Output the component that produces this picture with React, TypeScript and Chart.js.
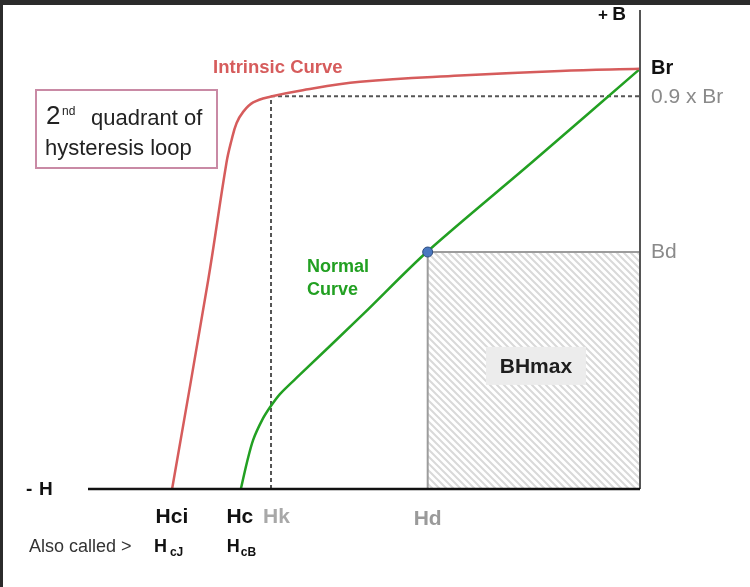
import React, { useEffect, useRef } from "react";
import { Chart, registerables } from "chart.js";

Chart.register(...registerables);

// Axis ranges (H in arbitrary units, B normalised so Br = 1)
const H_MIN = -13;
const H_MAX = 0;
const B_MIN = 0;
const B_MAX = 1.14;

// Intrinsic curve (red)
const intrinsicH = [-11.02, -10.17, -9.74, -9.62, -9.5, -9.35, -9.11, -8.69, -8.01, -6.59, -4.24, -1.88, 0];
const intrinsicB = [0, 0.497, 0.776, 0.83, 0.871, 0.897, 0.92, 0.934, 0.948, 0.969, 0.984, 0.995, 1.0];

// Normal curve (green)
const normalH = [-9.4, -9.26, -9.11, -8.9, -8.71, -8.48, -8.01, -6.52, -5.02, -2.55, 0];
const normalB = [0, 0.062, 0.117, 0.164, 0.195, 0.226, 0.272, 0.416, 0.564, 0.777, 1.0];

// Characteristic points
const Hci = -11.0;
const Hc = -9.4;
const Hk = -8.69;
const Hd = -5.0;
const Br = 1.0;
const B90 = 0.935;
const Bd = 0.564;

const FONT = '"Liberation Sans", Arial, Helvetica, sans-serif';

function text(
  ctx: CanvasRenderingContext2D,
  s: string,
  x: number,
  y: number,
  font: string,
  color: string,
  align: CanvasTextAlign = "left",
  baseline: CanvasTextBaseline = "middle"
) {
  ctx.font = font;
  ctx.fillStyle = color;
  ctx.textAlign = align;
  ctx.textBaseline = baseline;
  ctx.fillText(s, x, y);
}

function makeHatch(ctx: CanvasRenderingContext2D) {
  const p = document.createElement("canvas");
  p.width = 7;
  p.height = 7;
  const pc = p.getContext("2d")!;
  pc.fillStyle = "#ffffff";
  pc.fillRect(0, 0, 7, 7);
  pc.strokeStyle = "#d9d9d9";
  pc.lineWidth = 2;
  pc.beginPath();
  pc.moveTo(-1, -1);
  pc.lineTo(8, 8);
  pc.moveTo(-1, 6);
  pc.lineTo(1, 8);
  pc.moveTo(6, -1);
  pc.lineTo(8, 1);
  pc.stroke();
  return ctx.createPattern(p, "repeat")!;
}

const diagramPlugin = {
  id: "diagram",
  beforeDraw(chart: any) {
    const { ctx, width, height } = chart;
    ctx.save();
    ctx.fillStyle = "#ffffff";
    ctx.fillRect(0, 0, width, height);
    ctx.fillStyle = "#2b2b2b";
    ctx.fillRect(0, 0, width, 5);
    ctx.fillRect(0, 0, 3, height);
    ctx.restore();
  },
  beforeDatasetsDraw(chart: any) {
    const { ctx } = chart;
    const xs = chart.scales.x;
    const ys = chart.scales.y;
    const x0 = xs.getPixelForValue(Hd);
    const x1 = xs.getPixelForValue(0);
    const y0 = ys.getPixelForValue(Bd);
    const y1 = ys.getPixelForValue(0);
    ctx.save();
    ctx.fillStyle = makeHatch(ctx);
    ctx.fillRect(x0, y0, x1 - x0, y1 - y0);
    ctx.strokeStyle = "#9c9c9c";
    ctx.lineWidth = 2;
    ctx.beginPath();
    ctx.moveTo(x0, y1);
    ctx.lineTo(x0, y0);
    ctx.lineTo(x1, y0);
    ctx.stroke();

    // BHmax label box
    const cx = xs.getPixelForValue(-2.45);
    const cy = ys.getPixelForValue(0.293);
    ctx.fillStyle = "#ececec";
    ctx.fillRect(cx - 50, cy - 19, 100, 38);
    text(ctx, "BHmax", cx, cy + 1, `bold 21px ${FONT}`, "#1e1e1e", "center");
    ctx.restore();
  },
  afterDatasetsDraw(chart: any) {
    const { ctx, chartArea } = chart;
    const xs = chart.scales.x;
    const ys = chart.scales.y;
    const X = (v: number) => xs.getPixelForValue(v);
    const Y = (v: number) => ys.getPixelForValue(v);
    ctx.save();

    // axes
    ctx.strokeStyle = "#555555";
    ctx.lineWidth = 2;
    ctx.beginPath();
    ctx.moveTo(X(0), chartArea.top);
    ctx.lineTo(X(0), Y(0));
    ctx.stroke();
    ctx.strokeStyle = "#111111";
    ctx.lineWidth = 2.5;
    ctx.beginPath();
    ctx.moveTo(chartArea.left, Y(0));
    ctx.lineTo(X(0), Y(0));
    ctx.stroke();

    // axis names
    text(ctx, "+", X(0) - 32, chartArea.top + 5, `bold 17px ${FONT}`, "#111", "right");
    text(ctx, "B", X(0) - 14, chartArea.top + 5, `bold 19px ${FONT}`, "#111", "right");
    text(ctx, "-", 26, Y(0) + 1, `bold 19px ${FONT}`, "#111");
    text(ctx, "H", 39, Y(0) + 1, `bold 19px ${FONT}`, "#111");

    // curve labels
    text(ctx, "Intrinsic Curve", X(-8.53), Y(Br) - 1, `bold 18.5px ${FONT}`, "#d65c5c", "center");
    text(ctx, "Normal", X(-7.84), Y(0.528), `bold 18px ${FONT}`, "#22a022");
    text(ctx, "Curve", X(-7.84), Y(0.474), `bold 18px ${FONT}`, "#22a022");

    // B labels
    text(ctx, "Br", X(0) + 11, Y(Br), `bold 20px ${FONT}`, "#111");
    text(ctx, "0.9 x Br", X(0) + 11, Y(B90) + 1, `21px ${FONT}`, "#8a8a8a");
    text(ctx, "Bd", X(0) + 11, Y(Bd), `21px ${FONT}`, "#8a8a8a");

    // H labels
    const ty = Y(0) + 28;
    text(ctx, "Hci", X(Hci) - 1, ty, `bold 21px ${FONT}`, "#111", "center");
    text(ctx, "Hc", X(Hc) - 1, ty, `bold 21px ${FONT}`, "#111", "center");
    text(ctx, "Hk", X(Hk) - 8, ty, `bold 21px ${FONT}`, "#a8a8a8", "left");
    text(ctx, "Hd", X(Hd), ty + 2, `bold 21px ${FONT}`, "#9a9a9a", "center");

    // Also called row
    const ay = Y(0) + 58;
    text(ctx, "Also called >", 29, ay, `18px ${FONT}`, "#333");
    text(ctx, "H", X(Hci) - 19, ay, `bold 18px ${FONT}`, "#111");
    text(ctx, "cJ", X(Hci) - 3, ay + 6, `bold 12px ${FONT}`, "#111");
    text(ctx, "H", X(Hc) - 14, ay, `bold 18px ${FONT}`, "#111");
    text(ctx, "cB", X(Hc), ay + 6, `bold 12px ${FONT}`, "#111");

    // quadrant box
    ctx.strokeStyle = "#c98aa5";
    ctx.lineWidth = 2;
    ctx.strokeRect(36, 90, 181, 78);
    text(ctx, "2", 46, 124, `26px ${FONT}`, "#222", "left", "alphabetic");
    text(ctx, "nd", 62, 115, `12px ${FONT}`, "#222", "left", "alphabetic");
    text(ctx, "quadrant of", 91, 125, `22px ${FONT}`, "#222", "left", "alphabetic");
    text(ctx, "hysteresis loop", 45, 155, `22px ${FONT}`, "#222", "left", "alphabetic");

    ctx.restore();
  },
};

export default function App() {
  const ref = useRef<HTMLCanvasElement>(null);
  useEffect(() => {
    if (!ref.current) return;
    const chart = new Chart(ref.current, {
      type: "line",
      data: {
        datasets: [
          {
            label: "Bd point",
            data: [{ x: Hd, y: Bd }],
            showLine: false,
            pointRadius: 5,
            pointBackgroundColor: "#4a78c0",
            pointBorderColor: "#2d4d80",
            pointBorderWidth: 1,
            order: 0,
            clip: false,
          } as any,
          {
            label: "Intrinsic Curve",
            data: intrinsicH.map((h, i) => ({ x: h, y: intrinsicB[i] })),
            borderColor: "#d65c5c",
            borderWidth: 2.5,
            pointRadius: 0,
            tension: 0.4,
            fill: false,
            order: 1,
            clip: false,
          },
          {
            label: "Normal Curve",
            data: normalH.map((h, i) => ({ x: h, y: normalB[i] })),
            borderColor: "#22a022",
            borderWidth: 2.5,
            pointRadius: 0,
            tension: 0.3,
            fill: false,
            order: 2,
            clip: false,
          },
          {
            label: "Hk",
            data: [{ x: Hk, y: 0 }, { x: Hk, y: B90 }],
            borderColor: "#555555",
            borderWidth: 2,
            borderDash: [4, 3],
            pointRadius: 0,
            order: 3,
            clip: false,
          },
          {
            label: "0.9 x Br",
            data: [{ x: Hk, y: B90 }, { x: 0, y: B90 }],
            borderColor: "#555555",
            borderWidth: 2,
            borderDash: [4, 3],
            pointRadius: 0,
            order: 4,
            clip: false,
          },
        ],
      },
      options: {
        responsive: false,
        animation: false,
        events: [],
        layout: { padding: { left: 88, right: 110, top: 10, bottom: 98 } },
        scales: {
          x: { type: "linear", min: H_MIN, max: H_MAX, display: false },
          y: { type: "linear", min: B_MIN, max: B_MAX, display: false },
        },
        plugins: { legend: { display: false }, tooltip: { enabled: false } },
      },
      plugins: [diagramPlugin],
    });
    return () => chart.destroy();
  }, []);
  return (
    <div style={{ position: "absolute", left: 0, top: 0, width: 750, height: 587 }}>
      <canvas ref={ref} width={750} height={587} style={{ display: "block" }} />
    </div>
  );
}
